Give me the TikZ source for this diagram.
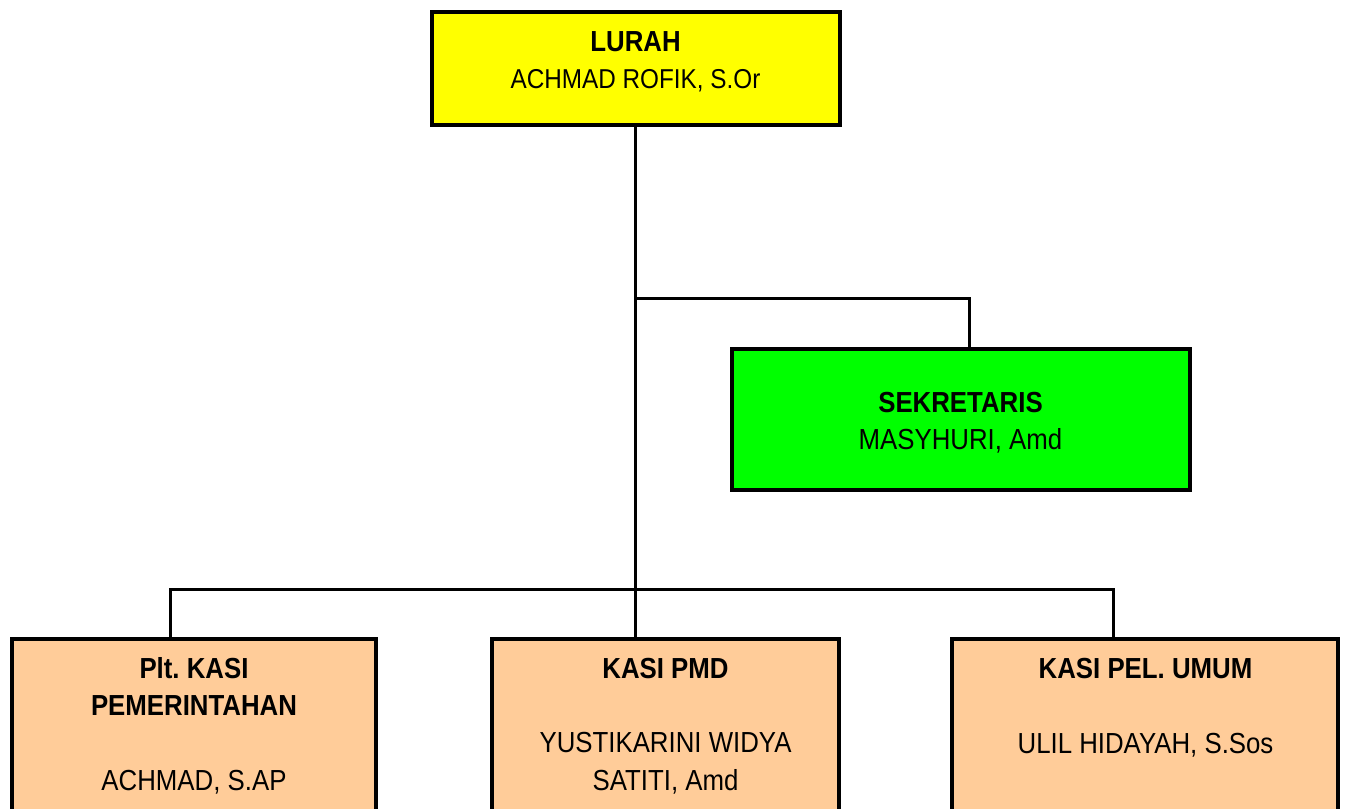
\documentclass[tikz,border=0pt]{standalone}
\usepackage{fontspec}
\setmainfont{Liberation Sans}[FakeStretch=0.89]
\frenchspacing
\definecolor{boxyellow}{HTML}{FFFF00}
\definecolor{boxgreen}{HTML}{00FF00}
\definecolor{boxpeach}{HTML}{FFCC99}
\begin{document}
\frenchspacing
\begin{tikzpicture}[x=1pt,y=-1pt,
  box/.style={draw=black,line width=4pt,rectangle,inner sep=0pt},
  conn/.style={draw=black,line width=3pt},
  ttl/.style={anchor=base,inner sep=0pt,font=\fontsize{29}{33}\selectfont\bfseries},
  nm/.style={anchor=base,inner sep=0pt,font=\fontsize{29}{33}\selectfont},
  nmsmall/.style={anchor=base,inner sep=0pt,font=\fontsize{27.3}{31}\selectfont}]
\path[use as bounding box] (0,0) rectangle (1348,808);
\clip (0,0) rectangle (1348,808);
\fill[white] (0,0) rectangle (1348,808);
% boxes
\node[box,fill=boxyellow,minimum width=408pt,minimum height=113pt] (lurah) at (635.8,68.4) {};
\node[box,fill=boxgreen,minimum width=458pt,minimum height=141pt] (sek) at (960.8,419.2) {};
\node[box,fill=boxpeach,minimum width=364pt,minimum height=211pt] (pem) at (194,744.5) {};
\node[box,fill=boxpeach,minimum width=347pt,minimum height=211pt] (pmd) at (665.5,744.5) {};
\node[box,fill=boxpeach,minimum width=386pt,minimum height=211pt] (umum) at (1145,744.5) {};
% junctions
\coordinate (jsek) at (lurah.south |- 0,298);
\coordinate (jbot) at (lurah.south |- 0,589);
% connectors
\draw[conn] (lurah.south) -- (lurah.south |- pmd.north);
\draw[conn] (jsek) -| ([xshift=8.2pt]sek.north);
\draw[conn] ([xshift=-24pt]pem.north) |- (jbot) -| ([xshift=-32pt]umum.north);
% texts
\node[ttl] (t1) at (635.5,52) {LURAH};
\node[nmsmall] (n1) at (635.5,88) {ACHMAD ROFIK, S.Or};
\node[ttl] (t2) at (960.5,412) {SEKRETARIS};
\node[nm] (n2) at (960.5,449) {MASYHURI, Amd};
\node[ttl] (t3a) at (194,678) {Plt. KASI};
\node[ttl] (t3b) at (194,715) {PEMERINTAHAN};
\node[nm] (n3) at (194,790) {ACHMAD, S.AP};
\node[ttl] (t4) at (665.5,678) {KASI PMD};
\node[nm] (n4a) at (665.5,752) {YUSTIKARINI WIDYA};
\node[nm] (n4b) at (665.5,790) {SATITI, Amd};
\node[ttl] (t5) at (1145.5,678) {KASI PEL. UMUM};
\node[nm] (n5) at (1145.5,753) {ULIL HIDAYAH, S.Sos};
\end{tikzpicture}
\end{document}
